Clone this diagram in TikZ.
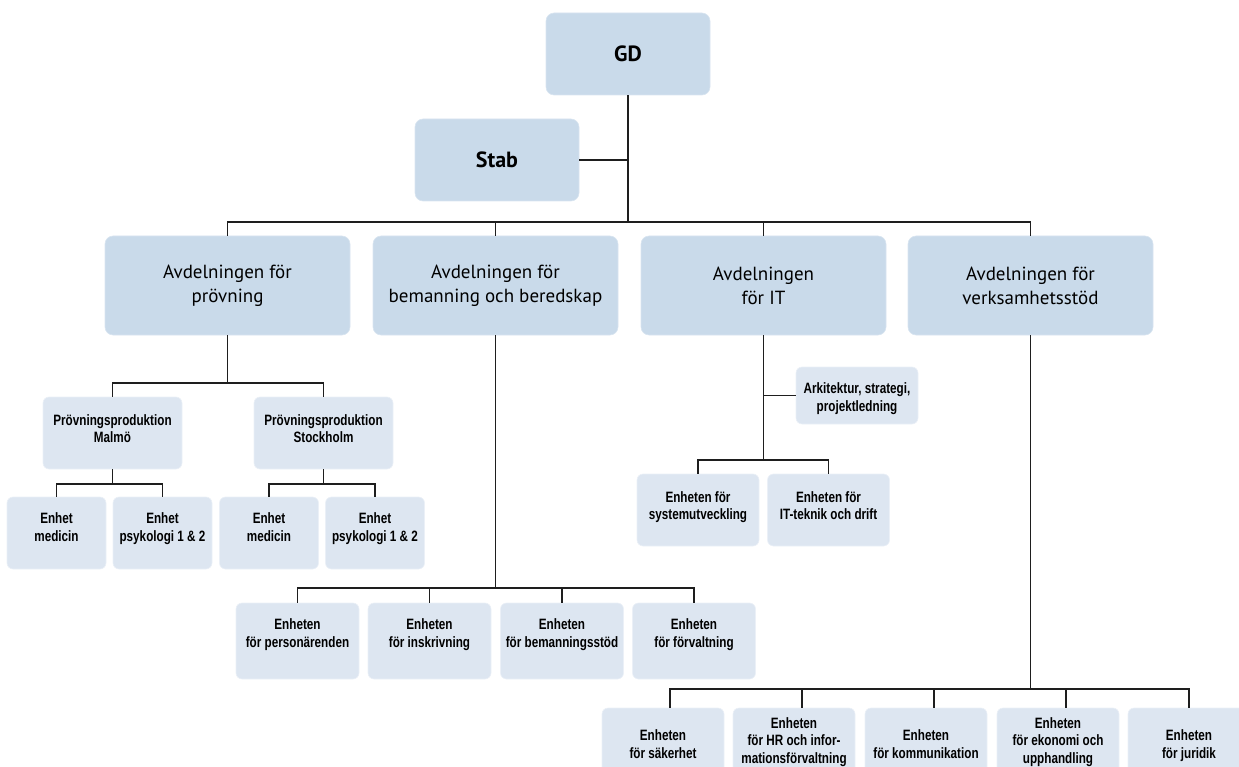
\documentclass[tikz,border=0pt]{standalone}
\usepackage{fontspec}
\setmainfont{PT Sans}
\newfontfamily\unitfont[FakeStretch=0.78]{Liberation Sans}
\definecolor{deptblue}{RGB}{201, 218, 234}
\definecolor{unitblue}{RGB}{221, 230, 241}
\definecolor{lineblack}{RGB}{30, 30, 30}
\usetikzlibrary{positioning, calc}

\begin{document}
\begin{tikzpicture}[x=1pt, y=-1pt,
  deptbox/.style={fill=deptblue, draw=deptblue!70!white, line width=0.6pt, rounded corners=8pt, align=center, inner sep=2pt, font=\fontsize{19}{24}\selectfont},
  topbox/.style={deptbox, minimum width=164pt, minimum height=82pt, font=\bfseries\fontsize{22}{26}\selectfont},
  unitbox/.style={fill=unitblue, draw=unitblue!60!white, line width=0.6pt, rounded corners=6pt, align=center, inner sep=2pt, font=\unitfont\bfseries\fontsize{15}{17.5}\selectfont},
  textlift/.style={text depth=4pt, text height=#1},
  link/.style={draw=lineblack, line width=1.2pt}]
  \useasboundingbox (0, 0) rectangle (1239, 767);
  \clip (0, 0) rectangle (1239, 767);

  % Top
  \node[topbox] (gd) at (628, 54) {GD};
  \node[topbox] (stab) at (497, 160) {Stab};

  % Departments
  \node[deptbox, minimum width=245pt, minimum height=99pt] (prov) at (227.5, 285.5) {Avdelningen för\\prövning};
  \node[deptbox, minimum width=245pt, minimum height=99pt] (bem) at (495.5, 285.5) {Avdelningen för\\bemanning och beredskap};
  \node[deptbox, minimum width=245pt, minimum height=99pt] (it) at (763.5, 285.5) {Avdelningen\\för IT};
  \node[deptbox, minimum width=245pt, minimum height=99pt] (verks) at (1030.5, 285.5) {Avdelningen för\\verksamhetsstöd};

  % Prövning
  \node[unitbox, textlift=23.5pt, minimum width=139pt, minimum height=72pt] (malmo) at (112.5, 433) {Prövningsproduktion\\Malmö};
  \node[unitbox, textlift=23.5pt, minimum width=139pt, minimum height=72pt] (sthlm) at (323.5, 433) {Prövningsproduktion\\Stockholm};
  \node[unitbox, textlift=20.5pt, minimum width=99pt, minimum height=72pt] (medm) at (56.5, 533) {Enhet\\medicin};
  \node[unitbox, textlift=20.5pt, minimum width=99pt, minimum height=72pt] (psym) at (162.5, 533) {Enhet\\psykologi 1 \& 2};
  \node[unitbox, textlift=20.5pt, minimum width=99pt, minimum height=72pt] (meds) at (269, 533) {Enhet\\medicin};
  \node[unitbox, textlift=20.5pt, minimum width=99pt, minimum height=72pt] (psys) at (375, 533) {Enhet\\psykologi 1 \& 2};

  % IT
  \node[unitbox, textlift=35pt, minimum width=122pt, minimum height=57pt] (ark) at (857, 395.5) {Arkitektur, strategi,\\projektledning};
  \node[unitbox, textlift=23.5pt, minimum width=122pt, minimum height=72pt] (sys) at (698, 510) {Enheten för\\systemutveckling};
  \node[unitbox, textlift=23.5pt, minimum width=122pt, minimum height=72pt] (itd) at (828.5, 510) {Enheten för\\IT-teknik och drift};

  % Bemanning
  \node[unitbox, textlift=16.5pt, minimum width=123pt, minimum height=76pt] (pers) at (297.5, 641) {Enheten\\för personärenden};
  \node[unitbox, textlift=16.5pt, minimum width=123pt, minimum height=76pt] (inskr) at (429.5, 641) {Enheten\\för inskrivning};
  \node[unitbox, textlift=16.5pt, minimum width=123pt, minimum height=76pt] (bstod) at (562, 641) {Enheten\\för bemanningsstöd};
  \node[unitbox, textlift=16.5pt, minimum width=123pt, minimum height=76pt] (forv) at (694, 641) {Enheten\\för förvaltning};

  % Verksamhetsstöd
  \node[unitbox, textlift=28.5pt, minimum width=122pt, minimum height=76pt] (sak) at (663, 746) {Enheten\\för säkerhet};
  \node[unitbox, textlift=38pt, minimum width=122pt, minimum height=76pt] (hr) at (794, 746) {Enheten\\för HR och infor-\\mationsförvaltning};
  \node[unitbox, textlift=28.5pt, minimum width=122pt, minimum height=76pt] (komm) at (926, 746) {Enheten\\för kommunikation};
  \node[unitbox, textlift=38pt, minimum width=122pt, minimum height=76pt] (eko) at (1058, 746) {Enheten\\för ekonomi och\\upphandling};
  \node[unitbox, textlift=28.5pt, minimum width=122pt, minimum height=76pt] (jur) at (1189, 746) {Enheten\\för juridik};

  % Lines
  \coordinate (topbus) at (628, 222);
  \draw[link] (gd) -- (topbus);
  \draw[link] (stab) -- (stab -| topbus);
  \draw[link] (prov.north) |- (topbus) -| (verks.north);
  \draw[link] (bem.north) -- (bem.north |- topbus);
  \draw[link] (it.north) -- (it.north |- topbus);

  \coordinate (provbus) at (227.5, 383);
  \draw[link] (prov) -- (provbus);
  \draw[link] (malmo.north) |- (provbus) -| (sthlm.north);
  \coordinate (malmobus) at (112.5, 484);
  \draw[link] (malmo) -- (malmobus);
  \draw[link] (medm.north) |- (malmobus) -| (psym.north);
  \coordinate (sthlmbus) at (323.5, 484);
  \draw[link] (sthlm) -- (sthlmbus);
  \draw[link] (meds.north) |- (sthlmbus) -| (psys.north);

  \coordinate (itbus) at (763.5, 460);
  \draw[link] (it) -- (itbus);
  \draw[link] (ark.west) -- (ark.west -| it);
  \draw[link] (sys.north) |- (itbus) -| (itd.north);

  \coordinate (bembus) at (495.5, 588);
  \draw[link] (bem) -- (bembus);
  \draw[link] (pers.north) |- (bembus) -| (forv.north);
  \draw[link] (inskr.north) -- (inskr.north |- bembus);
  \draw[link] (bstod.north) -- (bstod.north |- bembus);

  \coordinate (verksbus) at (1030.5, 689);
  \draw[link] (verks) -- (verksbus);
  \draw[link] ([xshift=7pt]sak.north) |- (verksbus) -| (jur.north);
  \draw[link] ([xshift=8pt]hr.north) -- ([xshift=8pt]hr.north |- verksbus);
  \draw[link] ([xshift=8pt]komm.north) -- ([xshift=8pt]komm.north |- verksbus);
  \draw[link] ([xshift=8pt]eko.north) -- ([xshift=8pt]eko.north |- verksbus);
\end{tikzpicture}
\end{document}
